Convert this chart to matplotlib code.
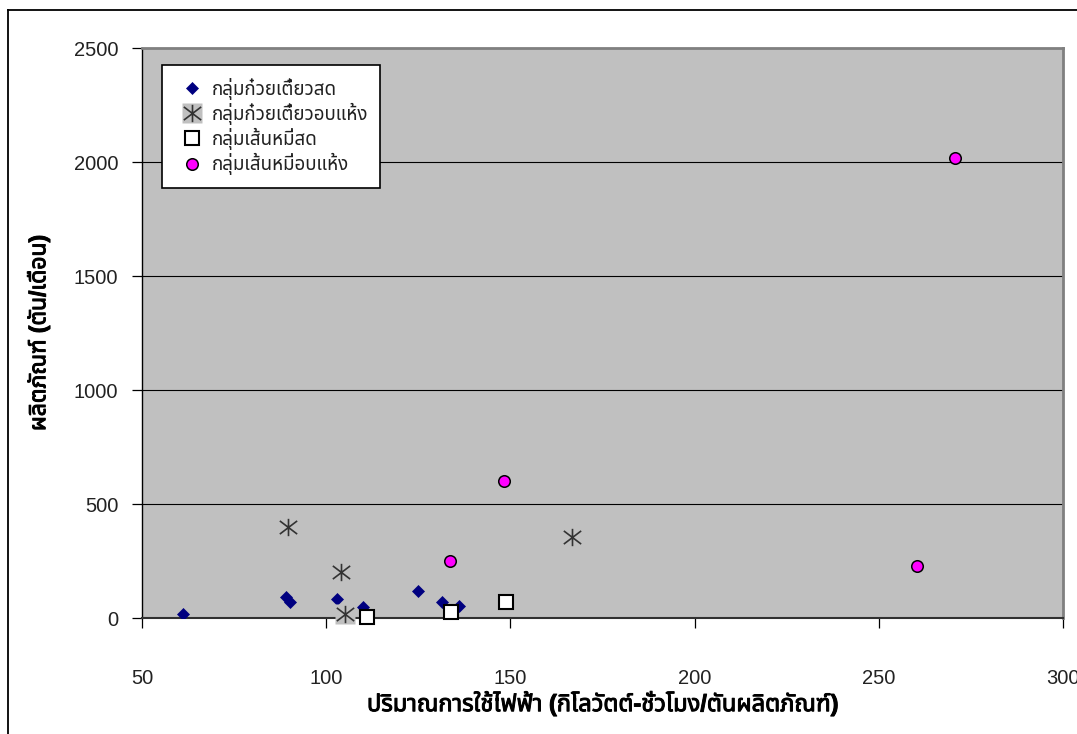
import matplotlib
matplotlib.use("Agg")
import matplotlib.pyplot as plt
from matplotlib import font_manager
from matplotlib import patheffects
from matplotlib.path import Path
from matplotlib.lines import Line2D

# ---- data -------------------------------------------------------------
series_names = [
    "กลุ่มก๋วยเตี๋ยวสด",
    "กลุ่มก๋วยเตี๋ยวอบแห้ง",
    "กลุ่มเส้นหมี่สด",
    "กลุ่มเส้นหมี่อบแห้ง",
]

fresh_noodle_x = [61, 89, 90.3, 103, 110, 125, 131.5, 136]
fresh_noodle_y = [18, 90, 68, 83, 47, 118, 71, 53]

dried_noodle_x = [89.5, 104, 105.2, 166.7]
dried_noodle_y = [400, 200, 17, 355]

fresh_vermicelli_x = [111, 134, 148.8]
fresh_vermicelli_y = [3, 25, 69]

dried_vermicelli_x = [133.5, 148.3, 260.5, 270.6]
dried_vermicelli_y = [251, 601, 228, 2016]

x_ticks = [50, 100, 150, 200, 250, 300]
y_ticks = [0, 500, 1000, 1500, 2000, 2500]

x_label = "ปริมาณการใช้ไฟฟ้า (กิโลวัตต์-ชั่วโมง/ตันผลิตภัณฑ์)"
y_label = "ผลิตภัณฑ์ (ตัน/เดือน)"


# ---- fonts ------------------------------------------------------------
def find_thai_family():
    preferred = ["Noto Sans Thai", "Noto Sans Thai UI", "Noto Sans Thai Looped",
                 "Tahoma", "Leelawadee UI", "Loma", "Garuda", "Norasi",
                 "Sarabun", "TH Sarabun New", "FreeSans", "Noto Serif Thai"]
    names = {f.name for f in font_manager.fontManager.ttflist}
    for p in preferred:
        if p in names:
            return p
    try:
        from fontTools.ttLib import TTFont
    except Exception:
        return None
    for fe in font_manager.fontManager.ttflist:
        try:
            kw = {}
            if fe.fname.lower().endswith((".ttc", ".otc")):
                kw["fontNumber"] = 0
            tt = TTFont(fe.fname, lazy=True, **kw)
            cmap = tt.getBestCmap() or {}
            if 0x0E01 in cmap and 0x0E34 in cmap:
                return fe.name
        except Exception:
            continue
    return None


thai = find_thai_family()
families = ["Liberation Sans"]
if thai:
    families.append(thai)
families.append("DejaVu Sans")
plt.rcParams["font.family"] = families

# ---- markers ----------------------------------------------------------
# Excel-style "star": a vertical bar crossed by an X
star_path = Path(
    [(0, -1), (0, 1), (-1, -0.76), (1, 0.76), (-1, 0.76), (1, -0.76)],
    [Path.MOVETO, Path.LINETO, Path.MOVETO, Path.LINETO, Path.MOVETO, Path.LINETO],
)

W, H = 1077, 734
fig = plt.figure(figsize=(W / 100, H / 100), dpi=100)
fig.patch.set_facecolor("white")

# outer chart frame (left and top edges)
fig.add_artist(Line2D([8 / W, 8 / W], [0, 1 - 10 / H], transform=fig.transFigure,
                      color="black", lw=1.3))
fig.add_artist(Line2D([8 / W, 1], [1 - 10 / H, 1 - 10 / H], transform=fig.transFigure,
                      color="black", lw=1.3))

ax = fig.add_axes([142 / W, 1 - 618 / H, (1063 - 142) / W, (618 - 48) / H])
ax.set_facecolor("#C0C0C0")
ax.set_xlim(50, 300)
ax.set_ylim(0, 2500)
ax.set_xticks(x_ticks)
ax.set_yticks(y_ticks)

for yv in y_ticks[1:-1]:
    ax.axhline(yv, color="black", lw=0.8, zorder=1)

for side in ("top", "right"):
    ax.spines[side].set_color("#808080")
    ax.spines[side].set_linewidth(2.0)
ax.spines["left"].set_color("black")
ax.spines["left"].set_linewidth(1.0)
ax.spines["bottom"].set_color("#303030")
ax.spines["bottom"].set_linewidth(1.5)

ax.tick_params(axis="both", direction="out", length=7, width=0.9, color="black",
               labelsize=14.5, labelcolor="#222222")
ax.tick_params(axis="x", pad=30)
ax.tick_params(axis="y", pad=10)

h1, = ax.plot(fresh_noodle_x, fresh_noodle_y, linestyle="none", marker="D",
              ms=6.4, mfc="#000080", mec="#000080", mew=0.5, zorder=3)
bg, = ax.plot(dried_noodle_x, dried_noodle_y, linestyle="none", marker="s",
              ms=15, mfc="#C0C0C0", mec="none", zorder=3.1, clip_on=False)
h2, = ax.plot(dried_noodle_x, dried_noodle_y, linestyle="none", marker=star_path,
              ms=12.5, mfc="none", mec="#333333", mew=1.2, zorder=3.2, clip_on=False)
h3, = ax.plot(fresh_vermicelli_x, fresh_vermicelli_y, linestyle="none", marker="s",
              ms=10.2, mfc="white", mec="black", mew=1.5, zorder=3.3, clip_on=False)
h4, = ax.plot(dried_vermicelli_x, dried_vermicelli_y, linestyle="none", marker="o",
              ms=8.3, mfc="#FF00FF", mec="black", mew=1.1, zorder=3.4)

leg = ax.legend([h1, (bg, h2), h3, h4], series_names,
                loc="upper left",
                bbox_to_anchor=((162 - 142) / (1063 - 142), (618 - 65) / (618 - 48)),
                borderaxespad=0, fontsize=13.5, frameon=True, fancybox=False,
                edgecolor="black", facecolor="white", framealpha=1,
                handlelength=1.8, handletextpad=0.15, labelspacing=0.16,
                borderpad=0.68)
leg.get_frame().set_linewidth(1.2)
for t in leg.get_texts():
    t.set_color("#222222")

bold_fx = [patheffects.withStroke(linewidth=0.7, foreground="black")]
xl = ax.set_xlabel(x_label, fontsize=17, fontweight="bold", labelpad=2)
yl = ax.set_ylabel(y_label, fontsize=16.5, fontweight="bold", labelpad=17)
xl.set_path_effects(bold_fx)
yl.set_path_effects(bold_fx)

fig.savefig("out.png", dpi=100, facecolor="white")
